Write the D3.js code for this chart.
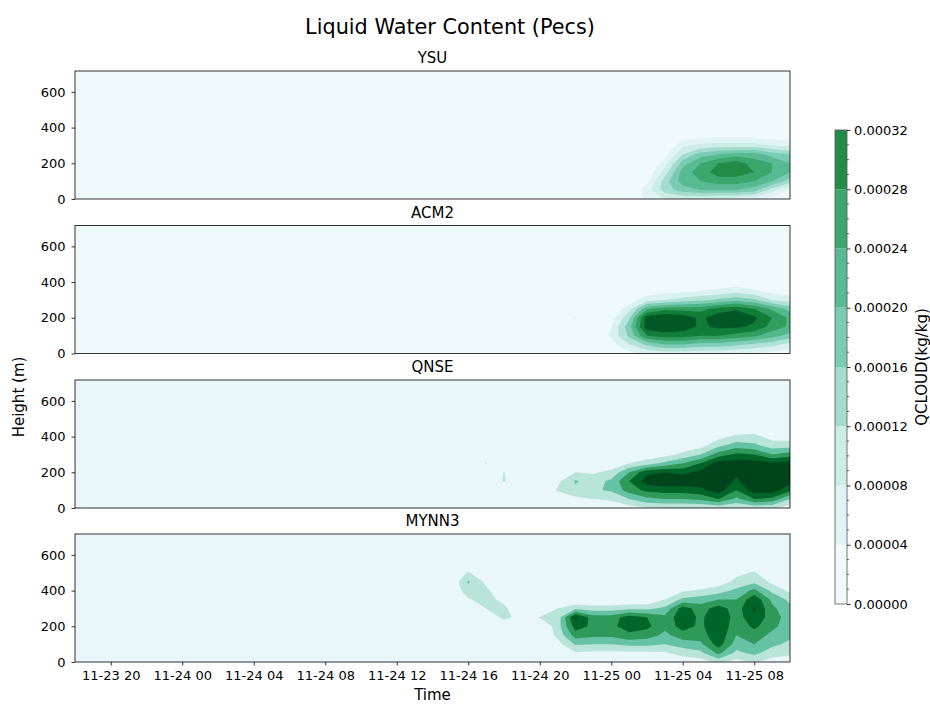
<!DOCTYPE html>
<html>
<head>
<meta charset="utf-8">
<script src="https://cdn.jsdelivr.net/npm/d3@7"></script>
<style>
body { margin: 0; background: #fff; }
text { font-family: "DejaVu Sans", sans-serif; fill: #000; }
</style>
</head>
<body>
<script>
const width = 930;
const height = 704;

// grid: hours after 11-23 18:00, heights in m
const startTime = new Date(2021, 10, 23, 18);
const nHours = 41;
const heights = [0, 50, 100, 150, 200, 250, 300, 350, 400, 450, 500, 550, 600, 650, 700];

const panelNames = ["YSU", "ACM2", "QNSE", "MYNN3"];

// contour levels, units of 1e-5 kg/kg
const ysuLevels = [0, 4, 8, 12, 16, 20, 24, 28, 32];
const acm2Levels = [0, 5, 10, 15, 20, 25, 30, 35, 40];
const qnseLevels = [0, 8, 16, 24, 32, 40, 48, 56];
const mynn3Levels = [0, 8, 16, 24, 32, 40, 48, 56];

// QCLOUD profiles, [hour, values at heights 0,50,100,...] in 1e-5 kg/kg
const ysuCols = [
	[32, [5, 6, 3, 1]],
	[33, [8, 14, 14, 10, 6, 2]],
	[34, [8, 18, 22, 22, 18, 12, 7, 2]],
	[35, [8, 20, 24, 26, 24, 18, 9, 3]],
	[36, [7, 20, 26, 30, 28, 20, 10, 3]],
	[37, [6, 20, 26, 30, 30, 22, 10, 3]],
	[38, [5, 18, 24, 28, 26, 22, 10, 3]],
	[39, [2, 10, 20, 24, 24, 18, 8, 2]],
	[40, [1, 4, 14, 20, 20, 16, 7, 1]]
];
const acm2Cols = [
	[28, [0, 0, 0, 0, 5.5]],
	[30, [0, 3, 6, 5, 2]],
	[31, [3, 10, 16, 18, 14, 8, 2]],
	[32, [6, 16, 30, 38, 38, 24, 8, 2]],
	[33, [7, 20, 32, 40, 40, 28, 10, 3]],
	[34, [7, 20, 32, 38, 38, 28, 12, 4]],
	[35, [6, 18, 30, 34, 34, 28, 14, 5]],
	[36, [6, 18, 30, 36, 38, 32, 16, 6, 2]],
	[37, [5, 16, 28, 36, 40, 34, 18, 8, 2]],
	[38, [4, 14, 26, 34, 36, 30, 16, 6]],
	[39, [3, 12, 22, 28, 30, 24, 10, 3]],
	[40, [2, 8, 18, 24, 24, 18, 8, 2]]
];
const qnseCols = [
	[23, [0, 0, 0, 0, 0, 8.5]],
	[24, [0, 0, 0, 8.8, 8.3]],
	[27, [0, 0, 9, 6]],
	[28, [0, 6, 14, 17, 8]],
	[29, [0, 8, 15, 12, 7]],
	[30, [0, 10, 17, 18, 10, 3]],
	[31, [5, 16, 28, 32, 24, 8]],
	[32, [7, 22, 34, 44, 38, 12, 3]],
	[33, [8, 24, 36, 46, 40, 18, 5]],
	[34, [8, 24, 36, 45, 38, 24, 10, 3]],
	[35, [8, 26, 38, 44, 42, 32, 16, 5]],
	[36, [10, 32, 44, 48, 48, 44, 28, 14, 5]],
	[37, [8, 22, 32, 38, 42, 44, 34, 20, 10]],
	[38, [10, 32, 44, 50, 50, 44, 32, 18, 10, 3]],
	[39, [9, 30, 44, 48, 48, 42, 24, 12, 5]],
	[40, [4, 16, 34, 44, 46, 43, 28, 12, 4]]
];
const mynn3Cols = [
	[22, [0, 0, 0, 0, 0, 0, 0, 7, 13, 17, 9]],
	[23, [0, 0, 0, 0, 0, 0, 8, 12, 10, 6]],
	[24, [0, 0, 0, 0, 0, 11, 10, 5]],
	[25, [0, 0, 0, 0, 0, 4]],
	[26, [0, 0, 0, 0, 0, 8.4]],
	[27, [0, 0, 5, 10, 12, 11, 8]],
	[28, [2, 7, 17, 28, 36, 42, 14]],
	[29, [2, 6, 16, 26, 30, 28, 12]],
	[30, [2, 6, 16, 26, 30, 28, 12]],
	[31, [2, 6, 18, 30, 36, 36, 14]],
	[32, [2, 6, 18, 28, 34, 32, 14]],
	[33, [2, 7, 16, 22, 26, 26, 18, 8]],
	[34, [3, 11, 20, 28, 36, 38, 36, 18, 7]],
	[35, [4, 14, 22, 28, 30, 30, 28, 20, 9]],
	[36, [10, 26, 36, 38, 40, 40, 36, 24, 12, 4]],
	[37, [5, 14, 20, 24, 26, 28, 28, 24, 18, 10, 6]],
	[38, [9, 18, 24, 28, 34, 38, 41, 38, 26, 14, 9]],
	[39, [4, 12, 18, 22, 26, 28, 26, 22, 14, 6]],
	[40, [3, 10, 14, 18, 20, 20, 18, 14, 6]]
];

const panelLevels = [ysuLevels, acm2Levels, qnseLevels, mynn3Levels];
const panelCols = [ysuCols, acm2Cols, qnseCols, mynn3Cols];

const yTicks = [0, 200, 400, 600];
const cbTicks = [0, 4, 8, 12, 16, 20, 24, 28, 32];

// layout
const left = 75, right = 790;
const panelH = 128;
const panelTops = [71, 225.5, 380, 534];

// matplotlib BuGn, shared norm 0..40e-5
const bugn = d3.scaleLinear()
	.domain(d3.range(9).map(i => i / 8))
	.range(d3.schemeBuGn[9])
	.interpolate(d3.interpolateRgb)
	.clamp(true);
const vmax = 40;
const bandColor = (lv, i) => bugn((lv[i] + lv[i + 1]) / 2 / vmax);

const x = d3.scaleTime()
	.domain([startTime, d3.timeHour.offset(startTime, nHours - 1)])
	.range([left, right]);
const xHour = d3.scaleLinear().domain([0, nHours - 1]).range([left, right]);
const rowToH = d3.scaleLinear().domain(d3.range(heights.length)).range(heights);

const svg = d3.select("body").append("svg")
	.attr("width", width)
	.attr("height", height);

svg.append("text")
	.attr("x", 450).attr("y", 34)
	.attr("text-anchor", "middle")
	.style("font-size", "20.8px")
	.text("Liquid Water Content (Pecs)");

panelNames.forEach((name, p) => {
	const top = panelTops[p];
	const levels = panelLevels[p];
	const y = d3.scaleLinear().domain([0, 717]).range([top + panelH, top]);

	// fill the grid from the column profiles
	const nRows = heights.length;
	const grid = new Array(nHours * nRows).fill(0);
	panelCols[p].forEach(([h, vals]) => {
		vals.forEach((v, r) => { grid[r * nHours + h] = v; });
	});

	const g = svg.append("g");
	const clipId = "clip" + p;
	svg.append("clipPath").attr("id", clipId)
		.append("rect")
		.attr("x", left).attr("y", top)
		.attr("width", right - left).attr("height", panelH);

	const body = g.append("g").attr("clip-path", `url(#${clipId})`);
	body.append("rect")
		.attr("x", left).attr("y", top)
		.attr("width", right - left).attr("height", panelH)
		.attr("fill", bandColor(levels, 0));

	const proj = d3.geoTransform({
		point: function (cx, cy) {
			this.stream.point(xHour(cx - 0.5), y(rowToH(cy - 0.5)));
		}
	});
	const path = d3.geoPath(proj);

	const contours = d3.contours()
		.size([nHours, nRows])
		.thresholds(levels.slice(1, -1))(grid);

	body.selectAll("path")
		.data(contours)
		.join("path")
		.attr("d", path)
		.attr("fill", (d, i) => bandColor(levels, i + 1));

	// y axis
	const ya = g.append("g")
		.attr("transform", `translate(${left},0)`)
		.call(d3.axisLeft(y).tickValues(yTicks).tickSize(3.5).tickPadding(6));
	ya.select(".domain").remove();
	ya.selectAll("text").style("font-size", "13px").attr("fill", "#000");
	ya.selectAll("line").attr("stroke", "#000").attr("stroke-width", 0.8);

	if (p === panelNames.length - 1) {
		const xa = g.append("g")
			.attr("transform", `translate(0,${top + panelH})`)
			.call(d3.axisBottom(x)
				.ticks(d3.timeHour.every(4))
				.tickFormat(d3.timeFormat("%m-%d %H"))
				.tickSize(3.5).tickPadding(5));
		xa.select(".domain").remove();
		xa.selectAll("text").style("font-size", "13px").attr("fill", "#000");
		xa.selectAll("line").attr("stroke", "#000").attr("stroke-width", 0.8);
	}

	g.append("rect")
		.attr("x", left).attr("y", top)
		.attr("width", right - left).attr("height", panelH)
		.attr("fill", "none")
		.attr("stroke", "#000")
		.attr("stroke-width", 0.8);

	g.append("text")
		.attr("x", (left + right) / 2).attr("y", top - 8)
		.attr("text-anchor", "middle")
		.style("font-size", "15px")
		.text(name);
});

svg.append("text")
	.attr("x", (left + right) / 2).attr("y", 700)
	.attr("text-anchor", "middle")
	.style("font-size", "15px")
	.text("Time");

svg.append("text")
	.attr("transform", "translate(24,397) rotate(-90)")
	.attr("text-anchor", "middle")
	.style("font-size", "15px")
	.text("Height (m)");

// colorbar, from the YSU levels
const cbX = 835, cbW = 12;
const cbY = d3.scaleLinear().domain([0, 32]).range([604, 130]);
const cb = svg.append("g");
cb.selectAll("rect.band")
	.data(ysuLevels.slice(0, -1))
	.join("rect")
	.attr("class", "band")
	.attr("x", cbX)
	.attr("width", cbW)
	.attr("y", (d, i) => cbY(ysuLevels[i + 1]))
	.attr("height", (d, i) => cbY(d) - cbY(ysuLevels[i + 1]))
	.attr("fill", (d, i) => bandColor(ysuLevels, i));
cb.append("rect")
	.attr("x", cbX).attr("y", 130)
	.attr("width", cbW).attr("height", 474)
	.attr("fill", "none")
	.attr("stroke", "#555")
	.attr("stroke-width", 0.8);

const cba = cb.append("g")
	.attr("transform", `translate(${cbX + cbW},0)`)
	.call(d3.axisRight(cbY).tickValues(cbTicks)
		.tickFormat(d => d3.format(".5f")(d * 1e-5))
		.tickSize(3.5).tickPadding(3.5));
cba.select(".domain").remove();
cba.selectAll("text").style("font-size", "13px").attr("fill", "#000");
cba.selectAll("line").attr("stroke", "#000").attr("stroke-width", 0.8);

cb.append("g")
	.selectAll("line")
	.data(cbY.ticks(32).filter(d => !cbTicks.includes(d)))
	.join("line")
	.attr("x1", cbX + cbW).attr("x2", cbX + cbW + 2)
	.attr("y1", d => cbY(d)).attr("y2", d => cbY(d))
	.attr("stroke", "#000")
	.attr("stroke-width", 0.6);

svg.append("text")
	.attr("transform", "translate(927,367) rotate(-90)")
	.attr("text-anchor", "middle")
	.style("font-size", "15px")
	.text("QCLOUD(kg/kg)");
</script>
</body>
</html>
